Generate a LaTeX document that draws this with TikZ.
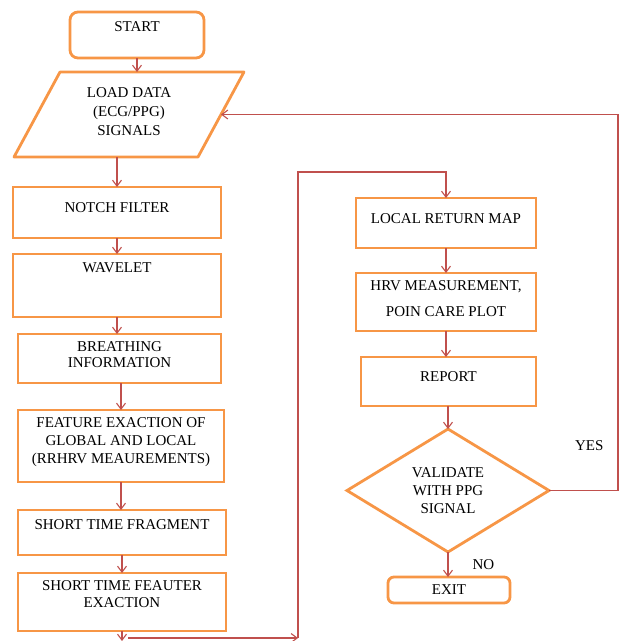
\documentclass[tikz,border=0pt]{standalone}
\usepackage{fontspec}
\setmainfont{Liberation Serif}
\usetikzlibrary{arrows.meta,shapes.geometric,calc}
\definecolor{boxorange}{HTML}{F79646}
\definecolor{linered}{HTML}{C0504D}

\begin{document}
\begin{tikzpicture}[x=1pt,y=-1pt,
    box/.style={draw=boxorange, line width=2.8pt, fill=white, outer sep=0pt, inner sep=0pt},
    roundbox/.style={box, rounded corners=8pt},
    txt/.style={anchor=north, inner sep=0pt, align=center, font=\fontsize{15}{18}\selectfont},
    arr/.style={draw=linered, line width=1.1pt, -{Straight Barb[length=6pt,width=9pt]}},
    lbl/.style={inner sep=0pt, font=\fontsize{15}{18}\selectfont}]
\useasboundingbox (0,0) rectangle (621,641);

% left column
\node[roundbox, minimum width=134pt, minimum height=46pt,
    label={[txt,yshift=-9pt]north:START}] (start) at (137,35) {};
\node[minimum width=230pt, minimum height=85pt, outer sep=0pt, inner sep=0pt] (load) at (129,114.5) {};
\draw[draw=boxorange, line width=2.8pt, line join=round]
    ($(load.north west)+(46,0)$) -- (load.north east) -- ($(load.south east)+(-46,0)$)
    -- (load.south west) -- cycle;
\node[txt, font=\fontsize{15}{19}\selectfont] at ($(load.north)+(0,15)$) {LOAD DATA\\(ECG/PPG)\\SIGNALS};
\coordinate (loadin) at ($(load.east)+(-23,0)$);
\node[box, minimum width=208pt, minimum height=51pt,
    label={[txt,yshift=-15pt]north:NOTCH FILTER}] (notch) at (117,212.5) {};
\node[box, minimum width=208pt, minimum height=63pt,
    label={[txt,yshift=-8pt]north:WAVELET}] (wavelet) at (117,285.5) {};
\node[box, minimum width=203pt, minimum height=49pt,
    label={[txt,yshift=-7pt,font=\fontsize{15}{16}\selectfont]north:BREATHING\\INFORMATION}] (breath) at (119.5,358.5) {};
\node[box, minimum width=206pt, minimum height=72pt,
    label={[txt,yshift=-7pt]north:FEATURE EXACTION OF\\GLOBAL AND LOCAL\\(RRHRV MEAUREMENTS)}] (feature) at (121,446) {};
\node[box, minimum width=208pt, minimum height=45pt,
    label={[txt,yshift=-9pt]north:SHORT TIME FRAGMENT}] (frag) at (122,532.5) {};
\node[box, minimum width=208pt, minimum height=58pt,
    label={[txt,yshift=-7pt,font=\fontsize{15}{17}\selectfont]north:SHORT TIME FEAUTER\\EXACTION}] (fexact) at (122,602) {};

% right column
\node[box, minimum width=180pt, minimum height=50pt,
    label={[txt,yshift=-15pt]north:LOCAL RETURN MAP}] (lrm) at (446,223) {};
\node[box, minimum width=180pt, minimum height=58pt,
    label={[txt,yshift=-7pt,font=\fontsize{15}{26}\selectfont]north:HRV MEASUREMENT,\\POIN CARE PLOT}] (hrv) at (446,302) {};
\node[box, minimum width=175pt, minimum height=49pt,
    label={[txt,yshift=-14pt]north:REPORT}] (report) at (448.5,381.5) {};
\node[box, diamond, minimum width=202pt, minimum height=123pt, align=center,
    font=\fontsize{15}{18}\selectfont] (valid) at (448,490.5) {VALIDATE\\WITH PPG\\SIGNAL};
\node[roundbox, rounded corners=6pt, minimum width=122pt, minimum height=26pt,
    font=\fontsize{15}{18}\selectfont] (exit) at (449,590) {EXIT};

\coordinate (c1) at (fexact.south |- 0,641);
\coordinate (c2) at (128,638);
\coordinate (c3) at (298,638);
\coordinate (c4) at (298,172);

% connectors
\draw[arr] (start.south) -- (start.south |- load.north);
\draw[arr] (load.south -| notch.north) -- (notch.north);
\draw[arr] (notch.south) -- (wavelet.north);
\draw[arr] (wavelet.south) -- (wavelet.south |- breath.north);
\draw[arr] (breath.south -| feature.north) -- (feature.north);
\draw[arr] (feature.south) -- (feature.south |- frag.north);
\draw[arr] (frag.south) -- (fexact.north);
\draw[arr] (fexact.south) -- (c1);
\draw[arr] (c2) -- (c3);
\draw[arr] (c3) -- (c4) -| (lrm.north);
\draw[arr] (lrm.south) -- (hrv.north);
\draw[arr] (hrv.south) -- (hrv.south |- report.north);
\draw[arr] (report.south -| valid.north) -- (valid.north);
\draw[arr] (valid.south) -- node[lbl, right=24pt] {NO} (valid.south |- exit.north);
\draw[arr] (valid.east) -- ++(69,0) |- node[lbl, pos=0.06, left=14pt] {YES} (loadin);
\end{tikzpicture}
\end{document}
